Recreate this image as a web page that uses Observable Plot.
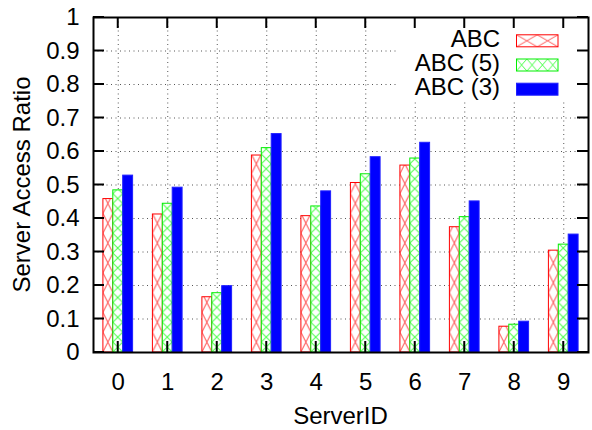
<!DOCTYPE html>
<html>
<head>
<meta charset="utf-8">
<script src="https://cdn.jsdelivr.net/npm/d3@7"></script>
<script src="https://cdn.jsdelivr.net/npm/@observablehq/plot@0.6"></script>
<style>
  html, body { margin: 0; padding: 0; background: white; }
</style>
</head>
<body>
<div id="chart"></div>
<script>
// ---- data ----
const servers = [0, 1, 2, 3, 4, 5, 6, 7, 8, 9];
const seriesNames = ["ABC", "ABC (5)", "ABC (3)"];
const abc  = [0.458, 0.412, 0.165, 0.588, 0.407, 0.506, 0.558, 0.374, 0.077, 0.304];
const abc5 = [0.484, 0.444, 0.177, 0.610, 0.436, 0.532, 0.579, 0.404, 0.083, 0.322];
const abc3 = [0.528, 0.492, 0.198, 0.652, 0.481, 0.583, 0.626, 0.451, 0.092, 0.352];
const yTicks = [0, 0.1, 0.2, 0.3, 0.4, 0.5, 0.6, 0.7, 0.8, 0.9, 1];
const xTitle = "ServerID";
const yTitle = "Server Access Ratio";

// ---- table ----
const seriesValues = [abc, abc5, abc3];
const table = [];
seriesNames.forEach((name, k) => {
  servers.forEach((s, i) => table.push({server: s, series: name, k, value: seriesValues[k][i]}));
});
const barW = 0.2;             // bar width in x units
const groupStart = -0.3;      // offset of first bar from group centre
const styles = [
  {fill: "url(#hatch-red)", stroke: "#ff0000"},
  {fill: "url(#hatch-green)", stroke: "#00ee00"},
  {fill: "#0000ff", stroke: "#2020ff"}
];

const W = 592, H = 430;
const M = {left: 93, right: 4, top: 17, bottom: 78};
const FONT = "'Liberation Sans', Arial, Helvetica, sans-serif";

// defs for hatch patterns, aligned to the x scale
function patternDefs(index, scales) {
  const x = scales.x, y = scales.y;
  const bw = x(barW) - x(0);
  const x0 = x(servers[0] + groupStart);
  const g = d3.create("svg:g");
  const defs = g.append("defs");
  // red: large crosshatch, cell bw x 2bw
  const pr = defs.append("pattern").attr("id", "hatch-red")
    .attr("patternUnits", "userSpaceOnUse")
    .attr("x", x0).attr("y", y(0)).attr("width", bw).attr("height", 2 * bw);
  pr.append("rect").attr("width", bw).attr("height", 2 * bw).attr("fill", "white");
  pr.append("path").attr("d", `M0,0L${bw},${2 * bw}M${bw},0L0,${2 * bw}`)
    .attr("stroke", "#ff5a5a").attr("stroke-width", 1).attr("fill", "none");
  // green: fine crosshatch, cell bw x bw
  const pg = defs.append("pattern").attr("id", "hatch-green")
    .attr("patternUnits", "userSpaceOnUse")
    .attr("x", x0 + bw).attr("y", y(0)).attr("width", bw).attr("height", bw);
  pg.append("rect").attr("width", bw).attr("height", bw).attr("fill", "white");
  pg.append("path").attr("d", `M0,0L${bw},${bw}M${bw},0L0,${bw}`)
    .attr("stroke", "#44ff44").attr("stroke-width", 1).attr("fill", "none");
  // legend patterns (bounding box units)
  const lr = defs.append("pattern").attr("id", "key-red")
    .attr("patternUnits", "objectBoundingBox").attr("patternContentUnits", "objectBoundingBox")
    .attr("width", 0.5).attr("height", 1);
  lr.append("path").attr("d", "M0,0L0.5,1M0.5,0L0,1").attr("stroke", "#ff5a5a")
    .attr("stroke-width", 0.04).attr("fill", "none");
  const lg = defs.append("pattern").attr("id", "key-green")
    .attr("patternUnits", "objectBoundingBox").attr("patternContentUnits", "objectBoundingBox")
    .attr("width", 0.25).attr("height", 1);
  lg.append("path").attr("d", "M0,0L0.25,1M0.25,0L0,1").attr("stroke", "#44ff44")
    .attr("stroke-width", 0.025).attr("fill", "none");
  return g.node();
}

// opaque key box hiding the grid
function keyBox(index, scales, values, dim) {
  const right = dim.width - dim.marginRight;
  const g = d3.create("svg:g");
  g.append("rect").attr("x", right - 191).attr("y", dim.marginTop)
    .attr("width", 191).attr("height", 85).attr("fill", "white");
  return g.node();
}

// inward ticks on all four sides, plus titles
function ticksAndTitles(index, scales, values, dim) {
  const x = scales.x, y = scales.y;
  const L = dim.marginLeft, R = dim.width - dim.marginRight;
  const T = dim.marginTop, B = dim.height - dim.marginBottom;
  const len = 11;
  const g = d3.create("svg:g").attr("stroke", "black").attr("stroke-width", 2);
  for (const v of yTicks) {
    g.append("line").attr("x1", L).attr("x2", L + len).attr("y1", y(v)).attr("y2", y(v));
    g.append("line").attr("x1", R - len).attr("x2", R).attr("y1", y(v)).attr("y2", y(v));
  }
  for (const s of servers) {
    g.append("line").attr("x1", x(s)).attr("x2", x(s)).attr("y1", B).attr("y2", B - len);
    g.append("line").attr("x1", x(s)).attr("x2", x(s)).attr("y1", T).attr("y2", T + len);
  }
  const t = d3.create("svg:g").attr("font-family", FONT).attr("font-size", 24).attr("fill", "black");
  t.append("text").attr("x", (L + R) / 2).attr("y", 424).attr("text-anchor", "middle").text(xTitle);
  t.append("text").attr("transform", `translate(30,${(T + B) / 2}) rotate(-90)`)
    .attr("text-anchor", "middle").text(yTitle);
  const wrap = d3.create("svg:g");
  wrap.node().appendChild(g.node());
  wrap.node().appendChild(t.node());
  return wrap.node();
}

// key
function key(index, scales, values, dim) {
  const R = dim.width - dim.marginRight;
  const T = dim.marginTop;
  const g = d3.create("svg:g").attr("font-family", FONT).attr("font-size", 24);
  const keyFills = ["url(#key-red)", "url(#key-green)", "#0000ff"];
  seriesNames.forEach((name, k) => {
    const base = T + 30 + 24.2 * k;
    g.append("text").attr("x", R - 88).attr("y", base).attr("text-anchor", "end")
      .attr("fill", "black").text(name);
    g.append("rect").attr("x", R - 71.5).attr("y", base - 12.2).attr("width", 41.5).attr("height", 12)
      .attr("fill", keyFills[k]).attr("stroke", styles[k].stroke).attr("stroke-width", 1);
  });
  return g.node();
}

const gridStyle = {stroke: "#555", strokeWidth: 1, strokeDasharray: "1,3.5"};

const plot = Plot.plot({
  width: W,
  height: H,
  marginLeft: M.left,
  marginRight: M.right,
  marginTop: M.top,
  marginBottom: M.bottom,
  style: {fontFamily: FONT, fontSize: "24px", background: "white", color: "black"},
  x: {domain: [-0.5, 9.5], label: null},
  y: {domain: [0, 1], label: null},
  marks: [
    patternDefs,
    Plot.ruleX(servers, {x: d => d, ...gridStyle}),
    Plot.ruleY(yTicks.slice(1, -1), {y: d => d, ...gridStyle}),
    keyBox,
    ...seriesNames.map((name, k) =>
      Plot.rectY(table.filter(d => d.k === k), {
        x1: d => d.server + groupStart + k * barW,
        x2: d => d.server + groupStart + (k + 1) * barW,
        y1: 0,
        y2: "value",
        fill: styles[k].fill,
        stroke: styles[k].stroke,
        strokeWidth: 1
      })
    ),
    Plot.frame({stroke: "black", strokeWidth: 2}),
    ticksAndTitles,
    key,
    Plot.axisX({ticks: servers, tickSize: 0, tickPadding: 20.5, tickFormat: d => String(d), label: null}),
    Plot.axisY({ticks: yTicks, tickSize: 0, tickPadding: 14, tickFormat: d => String(+d.toFixed(1)), label: null})
  ]
});
document.getElementById("chart").appendChild(plot);
</script>
</body>
</html>
